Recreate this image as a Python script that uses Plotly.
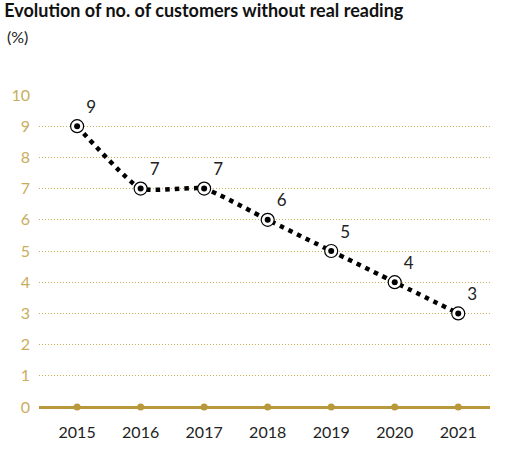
import plotly.graph_objects as go

YEARS = ['2015', '2016', '2017', '2018', '2019', '2020', '2021']
PCT_NO_READING = [9, 7, 7, 6, 5, 4, 3]
Y_TICKS = list(range(0, 11))

GOLD = '#b8983a'
GOLD_GRID = '#c8ad55'
GOLD_TEXT = '#c9ad5c'
FONT = 'Lato'

fig = go.Figure()

# gold dots on the baseline
fig.add_trace(go.Scatter(
    x=YEARS, y=[0] * len(YEARS),
    mode='markers',
    marker=dict(size=7, color=GOLD),
    cliponaxis=False, showlegend=False, hoverinfo='skip'
))

fig.add_trace(go.Scatter(
    x=YEARS, y=PCT_NO_READING,
    mode='lines+markers+text',
    line=dict(color='black', width=4.5, dash='4.5px,5px', shape='spline', smoothing=0.45),
    marker=dict(symbol='circle', size=13, color='white',
                line=dict(color='black', width=1.2)),
    text=[str(v) for v in PCT_NO_READING],
    textposition='top right',
    textfont=dict(family=FONT, size=17, color='#222'),
    cliponaxis=False, showlegend=False
))

# filled centre of each marker
fig.add_trace(go.Scatter(
    x=YEARS, y=PCT_NO_READING,
    mode='markers',
    marker=dict(symbol='circle', size=6, color='black'),
    cliponaxis=False, showlegend=False, hoverinfo='skip'
))

fig.update_xaxes(
    type='category', range=[-0.6, 6.5], automargin=False,
    showgrid=False, zeroline=False, showline=False,
    ticks='', tickfont=dict(family=FONT, size=16, color='#222'),
    ticklabelstandoff=14,
)
fig.update_yaxes(
    range=[0, 10], tickvals=Y_TICKS, automargin=False,
    showgrid=True, gridcolor=GOLD_GRID, griddash='1px,2px', gridwidth=1,
    zeroline=True, zerolinecolor=GOLD, zerolinewidth=3,
    showline=False, ticks='',
    tickfont=dict(family=FONT, size=16, color=GOLD_TEXT),
    ticklabelstandoff=8,
)

fig.update_layout(
    width=526, height=472,
    margin=dict(l=39, r=36, t=95, b=65),
    plot_bgcolor='white', paper_bgcolor='white',
    font=dict(family=FONT),
    title=dict(text='<b>Evolution of no. of customers without real reading</b>',
               x=0.008, xanchor='left', y=0.99, yanchor='top',
               font=dict(family=FONT, size=18, color='#111'), automargin=False),
    annotations=[dict(text='(%)', xref='paper', yref='paper', x=-0.076, y=1.225,
                      xanchor='left', yanchor='top', showarrow=False,
                      font=dict(family=FONT, size=16, color='#222'))],
)

# page body has an 8px default margin; drop it so the figure sits at the corner
fig.write_html('out.html', config={'displayModeBar': False},
               post_script="document.body.style.margin='0';")
